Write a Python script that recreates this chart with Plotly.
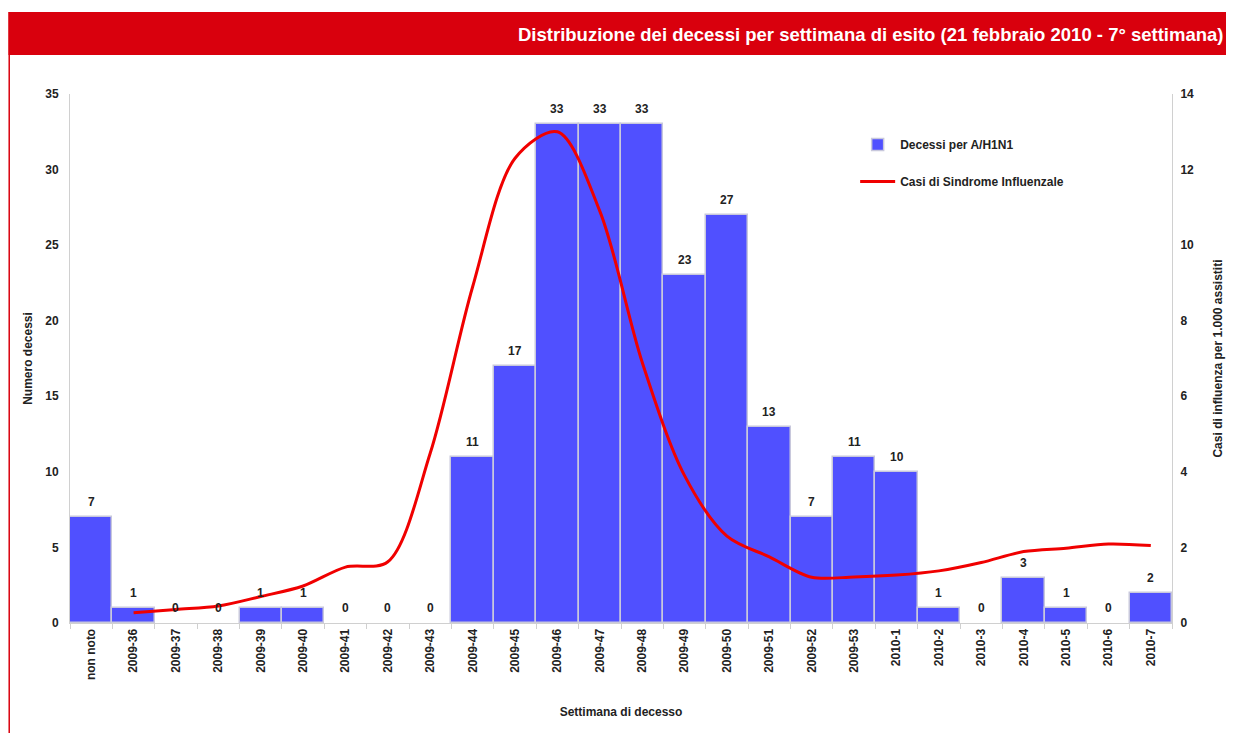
import plotly.graph_objects as go

categories = ["non noto", "2009-36", "2009-37", "2009-38", "2009-39", "2009-40", "2009-41",
              "2009-42", "2009-43", "2009-44", "2009-45", "2009-46", "2009-47", "2009-48",
              "2009-49", "2009-50", "2009-51", "2009-52", "2009-53", "2010-1", "2010-2",
              "2010-3", "2010-4", "2010-5", "2010-6", "2010-7"]
deaths = [7, 1, 0, 0, 1, 1, 0, 0, 0, 11, 17, 33, 33, 33, 23, 27, 13, 7, 11, 10, 1, 0, 3, 1, 0, 2]

ili_weeks = categories[1:]
ili_rate = [0.27, 0.36, 0.45, 0.70, 0.98, 1.48, 1.62, 4.5, 8.9, 12.3, 13.0, 10.9, 6.9,
            3.9, 2.3, 1.75, 1.21, 1.22, 1.27, 1.38, 1.60, 1.89, 1.98, 2.09, 2.05]

FONT = "Liberation Sans, Arial, sans-serif"
TXT = "#222222"

fig = go.Figure()
fig.add_trace(go.Bar(
    x=categories, y=deaths, name="Decessi per A/H1N1",
    marker=dict(color="#5050FF",
                line=dict(color="#C8C8DC", width=[1.5 if v > 0 else 0 for v in deaths])),
    legendgroup="a",
))
fig.add_trace(go.Scatter(
    x=ili_weeks, y=ili_rate, name="Casi di Sindrome Influenzale", yaxis="y2",
    mode="lines", line=dict(color="#F00000", width=3, shape="spline", smoothing=0.9),
    legendgroup="b",
))

# page body has an 8px margin: figure origin sits at (8, 8) in the window
OX, OY = 8, 8
W, H = 1226, 725
L, R, T, B = 70 - OX, 58, 94 - OY, 110
pw, ph = W - L - R, H - T - B

def px(x):
    return (x - OX - L) / pw

def py(y):
    return (H - B - (y - OY)) / ph

label_annotations = [
    dict(x=c, y=v, xref="x", yref="y", text=str(v), showarrow=False,
         yanchor="middle", yshift=15,
         font=dict(family=FONT, size=12, color=TXT, weight="bold"))
    for c, v in zip(categories, deaths)
]

fig.update_layout(
    width=W, height=H,
    margin=dict(l=L, r=R, t=T, b=B),
    paper_bgcolor="white", plot_bgcolor="white",
    bargap=0,
    font=dict(family=FONT, size=12, color=TXT),
    showlegend=True,
    legend=dict(x=px(858), y=py(130), xanchor="left", yanchor="top",
                font=dict(family=FONT, size=12, color=TXT, weight="bold"),
                tracegroupgap=18, bgcolor="rgba(0,0,0,0)", itemwidth=35),
    xaxis=dict(
        type="category", tickangle=-90, showgrid=False,
        showline=True, linecolor="#D0D0D0", linewidth=1,
        ticks="outside", tickson="boundaries", ticklen=5, tickcolor="#D0D0D0",
        tickfont=dict(family=FONT, size=12, color=TXT, weight="bold"),
        title=dict(text="Settimana di decesso", standoff=28,
                   font=dict(family=FONT, size=12, color=TXT, weight="bold")),
    ),
    yaxis=dict(
        range=[0, 35], dtick=5, showgrid=False, zeroline=False,
        showline=True, linecolor="#D0D0D0", linewidth=1, ticklabelstandoff=8,
        tickfont=dict(family=FONT, size=12, color=TXT, weight="bold"),
        title=dict(text="Numero decessi", standoff=10,
                   font=dict(family=FONT, size=12, color=TXT, weight="bold")),
    ),
    yaxis2=dict(
        range=[0, 14], dtick=2, overlaying="y", side="right", showgrid=False,
        zeroline=False, showline=True, linecolor="#D0D0D0", linewidth=1,
        ticklabelstandoff=5,
        tickfont=dict(family=FONT, size=12, color=TXT, weight="bold"),
        title=dict(text="Casi di influenza per 1.000 assistiti", standoff=20,
                   font=dict(family=FONT, size=12, color=TXT, weight="bold")),
    ),
    shapes=[
        dict(type="rect", xref="paper", yref="paper", x0=px(8), x1=px(1240),
             y0=py(55), y1=py(12), fillcolor="#D9000D", line=dict(width=0), layer="above"),
        dict(type="line", xref="paper", yref="paper", x0=px(9), x1=px(9),
             y0=py(55), y1=py(740), line=dict(color="#D9000D", width=1.5)),
    ],
    annotations=label_annotations + [
        dict(text="Distribuzione dei decessi per settimana di esito (21 febbraio 2010 - 7° settimana)",
             xref="paper", yref="paper", x=px(1229), y=py(34), xanchor="right", yanchor="middle",
             showarrow=False,
             font=dict(family="Liberation Sans, Arial, sans-serif",
                       size=18.5, color="white", weight="bold")),
    ],
)

fig.write_html("out.html")
